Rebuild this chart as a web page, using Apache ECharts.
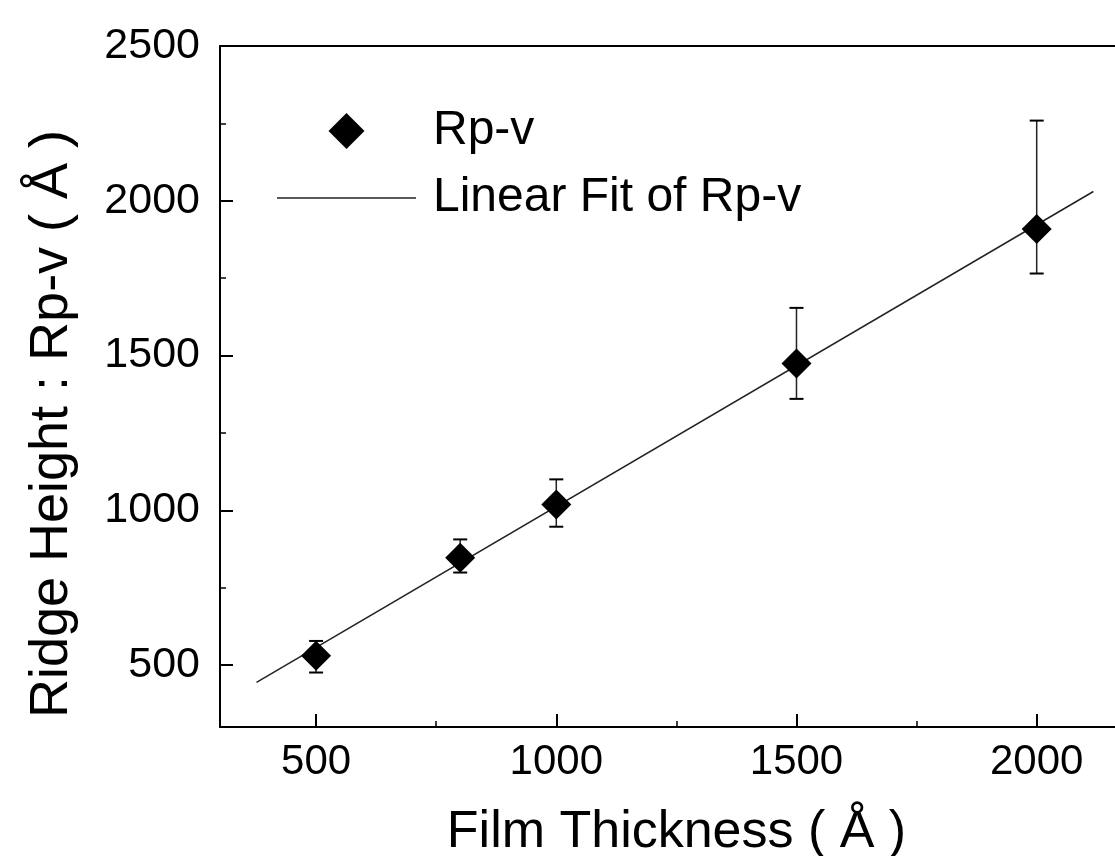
<!DOCTYPE html>
<html>
<head>
<meta charset="utf-8">
<title>Ridge Height vs Film Thickness</title>
<script src="https://cdn.jsdelivr.net/npm/echarts@6/dist/echarts.min.js"></script>
<style>
    html, body {
        margin: 0;
        padding: 0;
        background: #fff;
        overflow: hidden;
    }
    #chartView {
        width: 1115px;
        height: 856px;
    }
</style>
</head>
<body>
<div id="chartView"></div>
<script>
    // 数据
    var thickness = [500, 800, 1000, 1500, 2000];
    var rpv = [530, 847, 1019, 1474, 1909];
    var errLow = [476, 799, 947, 1360, 1765];
    var errHigh = [578, 906, 1100, 1654, 2259];

    // 线性拟合线的两端
    var fitX = [376, 2118];
    var fitY = [444, 2030];

    // 刻度
    var xTicks = [500, 1000, 1500, 2000];
    var xMinorTicks = [750, 1250, 1750];
    var yTicks = [500, 1000, 1500, 2000, 2500];
    var yMinorTicks = [750, 1250, 1750, 2250];

    var theFont = 'Liberation Sans, Arial, sans-serif';
    var theColor = '#000';

    var chartView = echarts.init(document.getElementById('chartView'));

    // 不要千位分隔符
    function plainLabel(value) {
        return String(value);
    }

    function getOption() {
        var xMin = 300, xMax = 2163;
        var yMin = 300, yMax = 2500;

        var option = {
            backgroundColor: '#fff',
            animation: false,
            grid: {
                left: 220,
                right: 0,
                top: 46,
                bottom: 129,
                containLabel: false,
                outerBoundsMode: 'none'
            },
            legend: {
                orient: 'vertical',
                left: 277,
                top: 107,
                padding: 0,
                itemWidth: 139,
                itemHeight: 36,
                itemGap: 19,
                symbolKeepAspect: true,
                data: [
                    {name: 'Rp-v', icon: 'path://M0,-1L1,0L0,1L-1,0Z'},
                    // 细长矩形当作线段图例
                    {name: 'Linear Fit of Rp-v', icon: 'path://M0,0L139,0L139,1.5L0,1.5Z'}
                ],
                textStyle: {
                    fontFamily: theFont,
                    fontSize: 48,
                    lineHeight: 48,
                    color: theColor,
                    padding: [0, 0, 0, 12]
                }
            },
            xAxis: [
                {
                    // 主 x 轴
                    type: 'value',
                    position: 'bottom',
                    min: xMin,
                    max: xMax,
                    name: 'Film Thickness ( Å )',
                    nameLocation: 'middle',
                    nameGap: 80,
                    nameTextStyle: {
                        fontFamily: theFont,
                        fontSize: 52,
                        color: theColor,
                        padding: [0, 0, 0, 18]
                    },
                    axisLine: {show: true, lineStyle: {color: theColor, width: 2}},
                    axisTick: {
                        show: true,
                        inside: true,
                        length: 13,
                        customValues: xTicks,
                        lineStyle: {color: theColor, width: 2}
                    },
                    axisLabel: {
                        customValues: xTicks,
                        formatter: plainLabel,
                        margin: 14,
                        fontFamily: theFont,
                        fontSize: 42,
                        color: theColor
                    },
                    splitLine: {show: false}
                },
                {
                    // 次刻度
                    type: 'value',
                    position: 'bottom',
                    min: xMin,
                    max: xMax,
                    axisLine: {show: false},
                    axisTick: {
                        show: true,
                        inside: true,
                        length: 6,
                        customValues: xMinorTicks,
                        lineStyle: {color: theColor, width: 1.5}
                    },
                    axisLabel: {show: false},
                    splitLine: {show: false}
                },
                {
                    // 顶部框线
                    type: 'value',
                    position: 'top',
                    min: xMin,
                    max: xMax,
                    axisLine: {show: true, lineStyle: {color: theColor, width: 2}},
                    axisTick: {show: false},
                    axisLabel: {show: false},
                    splitLine: {show: false}
                }
            ],
            yAxis: [
                {
                    type: 'value',
                    position: 'left',
                    min: yMin,
                    max: yMax,
                    name: 'Ridge Height : Rp-v ( Å )',
                    nameLocation: 'middle',
                    nameGap: 141,
                    nameTextStyle: {
                        fontFamily: theFont,
                        fontSize: 54,
                        color: theColor,
                        padding: [0, 75, 0, 0]
                    },
                    axisLine: {show: true, lineStyle: {color: theColor, width: 2}},
                    axisTick: {
                        show: true,
                        inside: true,
                        length: 13,
                        customValues: yTicks,
                        lineStyle: {color: theColor, width: 2}
                    },
                    axisLabel: {
                        customValues: yTicks,
                        formatter: plainLabel,
                        margin: 20,
                        fontFamily: theFont,
                        fontSize: 43,
                        color: theColor
                    },
                    splitLine: {show: false}
                },
                {
                    type: 'value',
                    position: 'left',
                    min: yMin,
                    max: yMax,
                    axisLine: {show: false},
                    axisTick: {
                        show: true,
                        inside: true,
                        length: 6,
                        customValues: yMinorTicks,
                        lineStyle: {color: theColor, width: 1.5}
                    },
                    axisLabel: {show: false},
                    splitLine: {show: false}
                }
            ],
            series: [
                {
                    name: 'Linear Fit of Rp-v',
                    type: 'line',
                    symbol: 'none',
                    lineStyle: {color: '#222', width: 1.5},
                    itemStyle: {color: '#222'},
                    z: 2,
                    data: fitX.map(function (x, i) { return [x, fitY[i]]; })
                },
                {
                    // 误差棒
                    name: 'error',
                    type: 'custom',
                    z: 3,
                    renderItem: function (params, api) {
                        var x = api.value(0);
                        var lo = api.coord([x, api.value(1)]);
                        var hi = api.coord([x, api.value(2)]);
                        var capW = 7;
                        var style = {stroke: '#222', lineWidth: 1.5};
                        return {
                            type: 'group',
                            children: [
                                {type: 'line', shape: {x1: lo[0], y1: lo[1], x2: hi[0], y2: hi[1]}, style: style},
                                {type: 'line', shape: {x1: lo[0] - capW, y1: lo[1], x2: lo[0] + capW, y2: lo[1]}, style: {stroke: '#000', lineWidth: 2}},
                                {type: 'line', shape: {x1: hi[0] - capW, y1: hi[1], x2: hi[0] + capW, y2: hi[1]}, style: {stroke: '#000', lineWidth: 2}}
                            ]
                        };
                    },
                    data: thickness.map(function (x, i) { return [x, errLow[i], errHigh[i]]; })
                },
                {
                    name: 'Rp-v',
                    type: 'scatter',
                    symbol: 'diamond',
                    symbolSize: 30,
                    itemStyle: {color: '#000', opacity: 1},
                    z: 4,
                    data: thickness.map(function (x, i) { return [x, rpv[i]]; })
                }
            ]
        };
        return option;
    }

    chartView.setOption(getOption());
</script>
</body>
</html>
